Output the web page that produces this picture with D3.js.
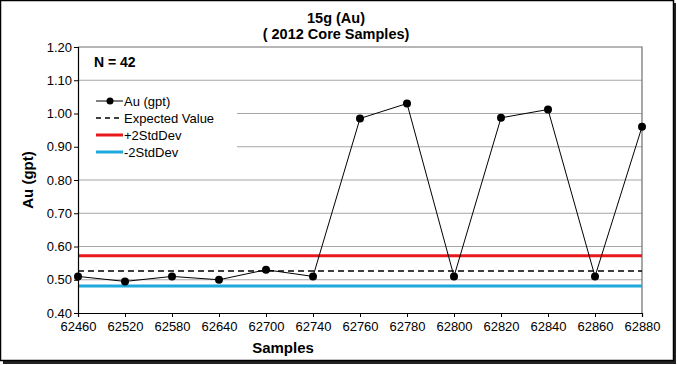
<!DOCTYPE html>
<html lang="en">
<head>
    <meta charset="UTF-8">
    <title>15g (Au)</title>
    <script src="https://d3js.org/d3.v7.min.js"></script>
    <style>
        body { margin: 0; background: #fff; }
        svg { font-family: "Liberation Sans", Arial, sans-serif; }
    </style>
</head>
<body>
    <svg width="677" height="365"></svg>
    <script>
        // Data
        const samples = ["62460", "62520", "62580", "62640", "62700", "62740", "62760",
                         "62780", "62800", "62820", "62840", "62860", "62880"];
        const auValues = [0.51, 0.495, 0.51, 0.50, 0.53, 0.51, 0.985,
                          1.03, 0.51, 0.987, 1.012, 0.51, 0.96];
        const expectedValue = 0.526;
        const plus2Std = 0.572;
        const minus2Std = 0.481;
        const yTicks = [0.40, 0.50, 0.60, 0.70, 0.80, 0.90, 1.00, 1.10, 1.20];

        const margin = { top: 47, right: 35, bottom: 52, left: 78 };
        const width = 677 - margin.left - margin.right;
        const height = 365 - margin.top - margin.bottom;

        const svgRoot = d3.select("svg");

        // outer frame with shadow
        svgRoot.append("rect")
            .attr("x", 3).attr("y", 3).attr("width", 673).attr("height", 361)
            .attr("fill", "#222");
        svgRoot.append("rect")
            .attr("x", 0.5).attr("y", 0.5).attr("width", 673).attr("height", 360)
            .attr("fill", "#fff").attr("stroke", "#000").attr("stroke-width", 1.5);

        const svg = svgRoot.append("g")
            .attr("transform", `translate(${margin.left},${margin.top})`);

        const x = d3.scalePoint().domain(samples).range([0, width]);
        const y = d3.scaleLinear().domain([0.4, 1.2]).range([height, 0]);

        // gridlines
        svg.append("g")
            .selectAll("line")
            .data(yTicks.slice(1, -1))
            .join("line")
            .attr("x1", 0).attr("x2", width)
            .attr("y1", d => y(d)).attr("y2", d => y(d))
            .attr("stroke", "#a6a6a6").attr("stroke-width", 1.2);

        // plot frame (top and right)
        svg.append("path")
            .attr("d", `M0,0H${width}V${height}`)
            .attr("fill", "none").attr("stroke", "#6e6e6e").attr("stroke-width", 1.2);

        // legend background covers gridlines
        svg.append("rect")
            .attr("x", 1).attr("y", 40).attr("width", 158).attr("height", 80)
            .attr("fill", "#fff");

        // reference lines
        svg.append("line")
            .attr("x1", 0).attr("x2", width)
            .attr("y1", y(plus2Std)).attr("y2", y(plus2Std))
            .attr("stroke", "#e8191d").attr("stroke-width", 3);
        svg.append("line")
            .attr("x1", 0).attr("x2", width)
            .attr("y1", y(minus2Std)).attr("y2", y(minus2Std))
            .attr("stroke", "#1ea8dc").attr("stroke-width", 3);
        svg.append("line")
            .attr("x1", 0).attr("x2", width)
            .attr("y1", y(expectedValue)).attr("y2", y(expectedValue))
            .attr("stroke", "#000").attr("stroke-width", 1.5)
            .attr("stroke-dasharray", "6,4");

        // axes
        const yAxis = d3.axisLeft(y).tickValues(yTicks).tickFormat(d3.format(".2f")).tickSize(4);
        const xAxis = d3.axisBottom(x).tickSize(4);

        const gy = svg.append("g").call(yAxis);
        gy.select(".domain").attr("stroke", "#000").attr("stroke-width", 1.2);
        gy.selectAll(".tick text").attr("font-size", 13).attr("fill", "#000").attr("x", -6);

        const gx = svg.append("g").attr("transform", `translate(0,${height})`).call(xAxis);
        gx.select(".domain").attr("stroke", "#000").attr("stroke-width", 1.2);
        gx.selectAll(".tick text").attr("font-size", 13).attr("fill", "#000").attr("y", 9);

        // data series
        const line = d3.line()
            .x((d, i) => x(samples[i]))
            .y(d => y(d));
        svg.append("path")
            .datum(auValues)
            .attr("d", line)
            .attr("fill", "none").attr("stroke", "#000").attr("stroke-width", 1);
        svg.append("g")
            .selectAll("circle")
            .data(auValues)
            .join("circle")
            .attr("cx", (d, i) => x(samples[i]))
            .attr("cy", d => y(d))
            .attr("r", 4)
            .attr("fill", "#000");

        // N label
        svg.append("text")
            .attr("x", 16).attr("y", 20)
            .attr("font-size", 14).attr("font-weight", "bold")
            .text("N = 42");

        // legend
        const legendItems = [
            { label: "Au (gpt)", type: "marker" },
            { label: "Expected Value", type: "dash" },
            { label: "+2StdDev", type: "red" },
            { label: "-2StdDev", type: "blue" }
        ];
        const legend = svg.append("g").attr("transform", "translate(18,54)");
        legendItems.forEach((item, i) => {
            const g = legend.append("g").attr("transform", `translate(0,${i * 17})`);
            const ln = g.append("line").attr("x1", 0).attr("x2", 27).attr("y1", 0).attr("y2", 0);
            if (item.type === "marker") {
                ln.attr("stroke", "#000").attr("stroke-width", 1);
                g.append("circle").attr("cx", 14).attr("cy", 0).attr("r", 3.5).attr("fill", "#000");
            } else if (item.type === "dash") {
                ln.attr("stroke", "#000").attr("stroke-width", 1.5).attr("stroke-dasharray", "5,4");
            } else if (item.type === "red") {
                ln.attr("stroke", "#e8191d").attr("stroke-width", 3);
            } else {
                ln.attr("stroke", "#1ea8dc").attr("stroke-width", 3);
            }
            g.append("text").attr("x", 28).attr("y", 4.5)
                .attr("font-size", 13).text(item.label);
        });

        // titles
        svgRoot.append("text")
            .attr("x", 336).attr("y", 23)
            .attr("text-anchor", "middle").attr("font-size", 14.5).attr("font-weight", "bold")
            .text("15g (Au)");
        svgRoot.append("text")
            .attr("x", 336).attr("y", 39)
            .attr("text-anchor", "middle").attr("font-size", 14.5).attr("font-weight", "bold")
            .text("( 2012 Core Samples)");

        svgRoot.append("text")
            .attr("transform", `translate(33,${margin.top + height / 2}) rotate(-90)`)
            .attr("text-anchor", "middle").attr("font-size", 15).attr("font-weight", "bold")
            .text("Au (gpt)");
        svgRoot.append("text")
            .attr("x", 283).attr("y", 353)
            .attr("text-anchor", "middle").attr("font-size", 15).attr("font-weight", "bold")
            .text("Samples");
    </script>
</body>
</html>
